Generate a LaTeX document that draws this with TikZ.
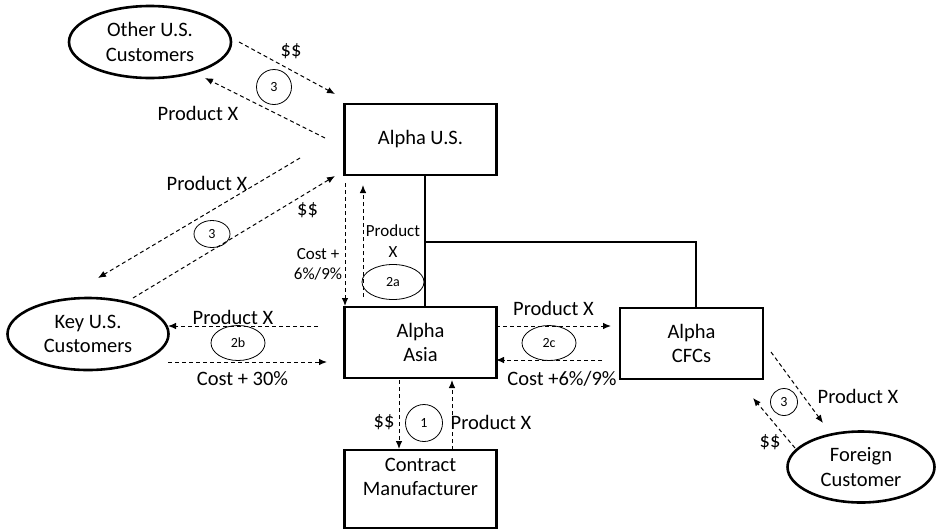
\documentclass[tikz,border=0pt]{standalone}
\usepackage{fontspec}
\setmainfont{Carlito}
\usetikzlibrary{positioning,arrows.meta,shapes.geometric,calc}

\begin{document}
\begin{tikzpicture}[
      x=1pt, y=-1pt,
      font=\fontsize{20.5}{24.5}\selectfont,
      >={Latex[length=8pt,width=6.5pt]},
      entity/.style={draw, line width=2.6pt, minimum width=152pt, minimum height=71pt,
                     align=center, inner sep=2pt},
      cust/.style={draw, ellipse, line width=2.6pt, minimum width=161pt, minimum height=72pt,
                   align=center, inner sep=0pt},
      tag/.style={draw, line width=0.8pt, inner sep=0pt, font=\fontsize{14}{16}\selectfont},
      flow/.style={->, line width=1pt, dash pattern=on 4pt off 3pt},
      link/.style={line width=1.8pt},
      lbl/.style={inner sep=0pt},
      small/.style={inner sep=0pt, align=center, font=\fontsize{17}{20.5}\selectfont}
    ]
    \useasboundingbox (0,0) rectangle (936,531);

    % entities
    \node[entity] (us)   at (420.5,139.5) {Alpha U.S.};
    \node[entity] (asia) at (420.5,342.5) {Alpha\\Asia};
    \node[entity, minimum width=143pt] (cfc) at (691.5,343.5) {Alpha\\CFCs};
    \node[entity, minimum height=78pt] (cm) at (420.5,489) {Contract\\Manufacturer\\\mbox{}};

    % customers
    \node[cust, minimum width=162pt] (other) at (150,42) {Other U.S.\\Customers};
    \node[cust] (key) at (88,334) {Key U.S.\\Customers};
    \node[cust, minimum width=147pt, minimum height=71pt] (foreign) at (861,467) {Foreign\\Customer};

    % ownership
    \coordinate (usfoot) at ($(us.south)+(4.5,0)$);
    \coordinate (jn) at (usfoot |- 0,242);
    \draw[link] (usfoot) -- (usfoot |- asia.north);
    \draw[line width=1.1pt] (jn) -| ($(cfc.north)+(4.5,0)$);

    % transaction tags
    \node[tag, circle, minimum size=35pt] (t3a) at (274,87) {3};
    \node[tag, ellipse, minimum width=36pt, minimum height=27pt] (t3b) at (212,234) {3};
    \node[tag, ellipse, minimum width=62pt, minimum height=35pt] (t2a) at (393,282) {2a};
    \node[tag, ellipse, minimum width=54pt, minimum height=35pt] (t2b) at (238,343) {2b};
    \node[tag, ellipse, minimum width=54pt, minimum height=35pt] (t2c) at (549,343) {2c};
    \node[tag, circle, minimum size=37pt] (t1) at (424,423) {1};
    \node[tag, circle, minimum size=27pt] (t3c) at (784,402) {3};

    % free ends of the flows
    \coordinate (o1) at (239,42);   \coordinate (o2) at (335,94);
    \coordinate (o3) at (325,138);  \coordinate (o4) at (205,78);
    \coordinate (k1) at (300,158);  \coordinate (k2) at (98,278);
    \coordinate (k3) at (133,298);  \coordinate (k4) at (335,176);
    \coordinate (d1) at (345,183);  \coordinate (d2) at (345,306);
    \coordinate (u1) at (363,297);  \coordinate (u2) at (363,185);
    \coordinate (h1) at (318,326);  \coordinate (h2) at (168,326);
    \coordinate (h3) at (168,362);  \coordinate (h4) at (327,362);
    \coordinate (c1) at (496,326);  \coordinate (c2) at (611,326);
    \coordinate (c3) at (602,360);  \coordinate (c4) at (496,360);
    \coordinate (m1) at (399,380);  \coordinate (m2) at (399,449);
    \coordinate (m3) at (452,450);  \coordinate (m4) at (452,380);
    \coordinate (f1) at (771,352);  \coordinate (f2) at (823,423);
    \coordinate (f3) at (795,448);  \coordinate (f4) at (753,398);

    % flows
    \draw[flow] (o1) -- (o2) node[midway, lbl, xshift=4pt, yshift=17pt]{\$\$};
    \draw[flow] (o3) -- (o4) node[midway, lbl, xshift=-67pt, yshift=-5pt]{Product X};
    \draw[flow] (k1) -- (k2) node[midway, lbl, xshift=8pt, yshift=35pt]{Product X};
    \draw[flow] (k3) -- (k4) node[pos=0.8, lbl, xshift=13pt, yshift=-10pt]{\$\$};
    \draw[flow] (d1) -- (d2) node[midway, small, xshift=-27pt, yshift=-20pt]{Cost +\\6\%/9\%};
    \draw[flow] (u1) -- (u2) node[midway, small, xshift=30pt]{Product\\X};
    \draw[flow] (h1) -- (h2) node[midway, lbl, xshift=-10pt, yshift=9pt]{Product X};
    \draw[flow] (h3) -- (h4) node[midway, lbl, xshift=-5pt, yshift=-17pt]{Cost + 30\%};
    \draw[flow] (c1) -- (c2) node[midway, lbl, yshift=18pt]{Product X};
    \draw[flow] (c3) -- (c4) node[midway, lbl, xshift=13pt, yshift=-19pt]{Cost +6\%/9\%};
    \draw[flow] (m1) -- (m2) node[midway, lbl, xshift=-15pt, yshift=-8pt]{\$\$};
    \draw[flow] (m3) -- (m4) node[midway, lbl, xshift=39pt, yshift=-7pt]{Product X};
    \draw[flow] (f1) -- (f2) node[midway, lbl, xshift=61pt, yshift=-9pt]{Product X};
    \draw[flow] (f3) -- (f4) node[midway, lbl, xshift=-4pt, yshift=-19pt]{\$\$};
  \end{tikzpicture}
\end{document}
